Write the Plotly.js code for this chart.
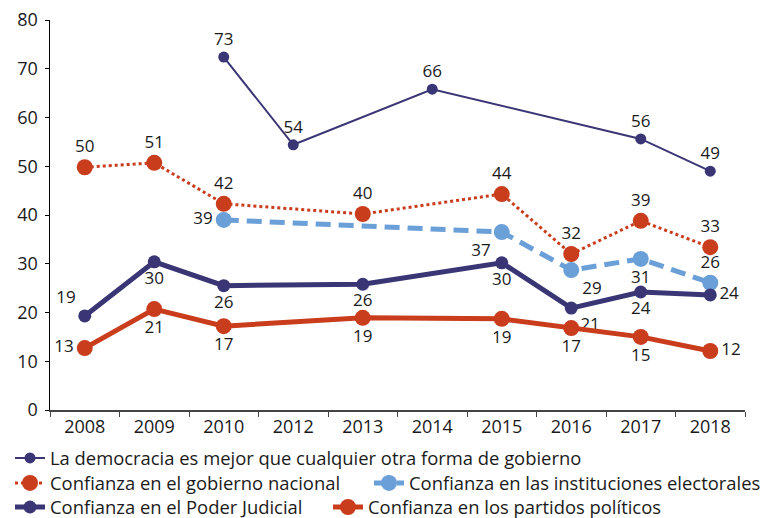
<!DOCTYPE html>
<html>
<head>
<meta charset="utf-8">
<script src="https://cdn.plot.ly/plotly-3.0.1.min.js"></script>
<style>html,body{margin:0;padding:0;background:#fff;}#chart{width:764px;height:518px;}</style>
</head>
<body>
<div id="chart"></div>
<script>
const years = ['2008','2009','2010','2012','2013','2014','2015','2016','2017','2018'];

const democraciaVals   = [null, null, 72.4, 54.4, null, 65.8, null, null, 55.6, 49.0];
const democraciaLabels = ['', '', '73', '54', '', '66', '', '', '56', '49'];

const gobiernoVals   = [49.8, 50.7, 42.3, null, 40.2, null, 44.3, 32.0, 38.8, 33.4];
const gobiernoLabels = ['50', '51', '42', '', '40', '', '44', '32', '39', '33'];

const electoralVals   = [null, null, 39.0, null, null, null, 36.5, 28.7, 31.0, 26.1];
const electoralLabels = ['', '', '39', '', '', '', '37', '29', '31', '26'];

const judicialVals   = [19.3, 30.4, 25.5, null, 25.8, null, 30.2, 20.9, 24.2, 23.6];
const judicialLabels = ['19', '30', '26', '', '26', '', '30', '21', '24', '24'];

const partidosVals   = [12.7, 20.7, 17.2, null, 18.9, null, 18.7, 16.8, 15.0, 12.1];
const partidosLabels = ['13', '21', '17', '', '19', '', '19', '17', '15', '12'];

const seriesNames = [
  'La democracia es mejor que cualquier otra forma de gobierno',
  'Confianza en el gobierno nacional',
  'Confianza en las instituciones electorales',
  'Confianza en el Poder Judicial',
  'Confianza en los partidos políticos'
];

const navy = '#3a3675', red = '#c93c1c', blue = '#6a9fd8';
const FONT = '"Open Sans", Lato, sans-serif';
const txtFont = {family: FONT, size: 17, color: '#1a1a1a'};

const traces = [
  {
    x: years, y: democraciaVals, text: democraciaLabels, name: seriesNames[0], legend: 'legend',
    mode: 'lines+markers+text', connectgaps: true,
    line: {color: navy, width: 2}, marker: {color: navy, size: 11},
    textposition: 'top center',
    textfont: txtFont, cliponaxis: false
  },
  {
    x: years, y: gobiernoVals, text: gobiernoLabels, name: seriesNames[1], legend: 'legend2',
    mode: 'lines+markers+text', connectgaps: true,
    line: {color: red, width: 3, dash: 'dot'}, marker: {color: red, size: 16},
    textposition: 'top center',
    textfont: txtFont, cliponaxis: false
  },
  {
    x: years, y: electoralVals, text: electoralLabels, name: seriesNames[2], legend: 'legend3',
    mode: 'lines+markers+text', connectgaps: true,
    line: {color: blue, width: 5, dash: '15px,8px'}, marker: {color: blue, size: 16},
    textposition: ['middle left','middle left','middle left','middle left','middle left','middle left','bottom left','bottom right','bottom center','top center'],
    textfont: txtFont, cliponaxis: false
  },
  {
    x: years, y: judicialVals, text: judicialLabels, name: seriesNames[3], legend: 'legend4',
    mode: 'lines+markers+text', connectgaps: true,
    line: {color: navy, width: 5}, marker: {color: navy, size: 13},
    textposition: ['top left','bottom center','bottom center','bottom center','bottom center','bottom center','bottom center','bottom right','bottom center','middle right'],
    textfont: txtFont, cliponaxis: false
  },
  {
    x: years, y: partidosVals, text: partidosLabels, name: seriesNames[4], legend: 'legend5',
    mode: 'lines+markers+text', connectgaps: true,
    line: {color: red, width: 5}, marker: {color: red, size: 16},
    textposition: ['middle left','bottom center','bottom center','bottom center','bottom center','bottom center','bottom center','bottom center','bottom center','middle right'],
    textfont: txtFont, cliponaxis: false
  }
];

function leg(x, y) {
  return {
    orientation: 'h', xref: 'container', yref: 'container',
    x: x, xanchor: 'left', y: y, yanchor: 'middle',
    font: {family: FONT, size: 18.4, color: '#1a1a1a'},
    bgcolor: 'rgba(0,0,0,0)', borderwidth: 0, itemwidth: 30
  };
}

const layout = {
  width: 764, height: 518,
  margin: {l: 50, r: 19, t: 20, b: 108},
  paper_bgcolor: '#fff', plot_bgcolor: '#fff',
  font: {family: FONT, size: 17, color: '#1a1a1a'},
  showlegend: true,
  legend:  leg(0.0131, 0.1158),
  legend2: leg(0.0131, 0.0676),
  legend3: leg(0.4830, 0.0676),
  legend4: leg(0.0131, 0.0212),
  legend5: leg(0.4293, 0.0212),
  xaxis: {
    type: 'category', range: [-0.5, 9.5],
    showgrid: false, zeroline: false,
    showline: true, linecolor: '#444', linewidth: 1.5,
    ticks: 'outside', ticklen: 5, tickcolor: '#444', tickson: 'boundaries',
    tickfont: {family: FONT, size: 18, color: '#1a1a1a'}
  },
  yaxis: {
    range: [0, 80], dtick: 10,
    showgrid: false, zeroline: false,
    showline: true, linecolor: '#000', linewidth: 1.5,
    ticks: 'outside', ticklen: 4, tickcolor: '#000',
    ticklabelstandoff: 3,
    tickfont: {family: FONT, size: 18, color: '#1a1a1a'}
  }
};

Plotly.newPlot('chart', traces, layout, {displayModeBar: false, staticPlot: true});
</script>
</body>
</html>
